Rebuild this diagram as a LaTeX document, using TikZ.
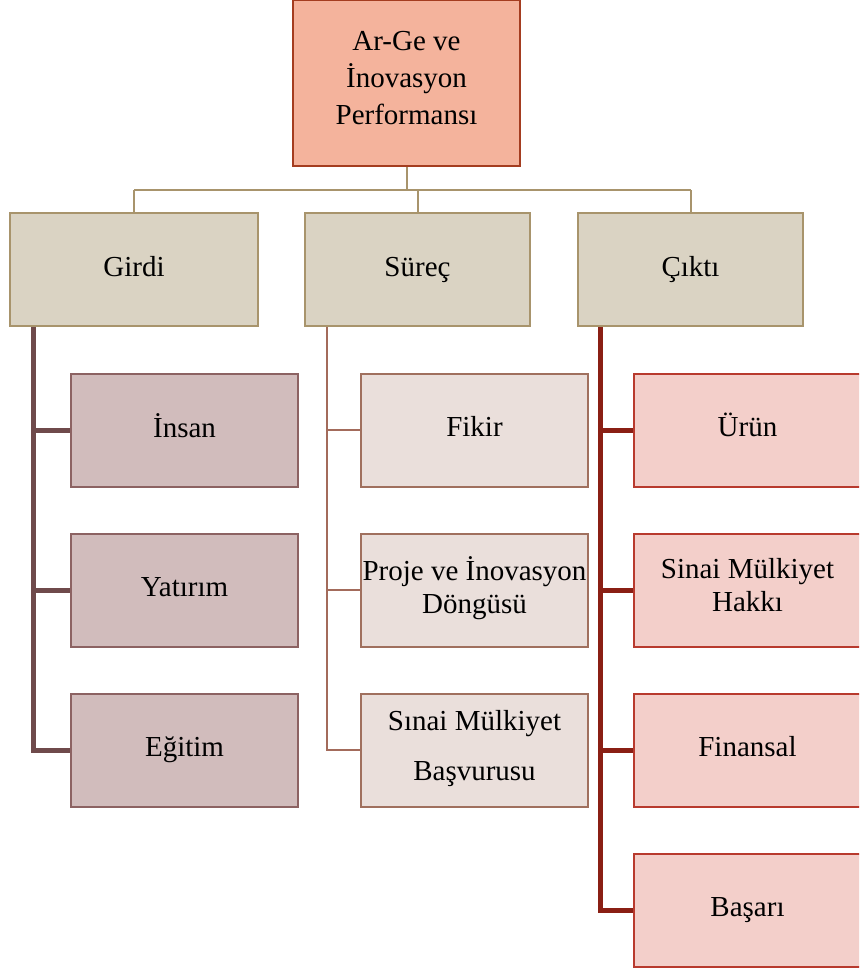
\documentclass[tikz,border=0pt]{standalone}
\usepackage{fontspec}
\setmainfont{Liberation Serif}
\definecolor{topfill}{HTML}{F4B39C}
\definecolor{topdraw}{HTML}{A43D20}
\definecolor{catfill}{HTML}{DAD3C3}
\definecolor{catdraw}{HTML}{A8946C}
\definecolor{inline}{HTML}{6F4A4B}
\definecolor{infill}{HTML}{D1BCBC}
\definecolor{indraw}{HTML}{8C6262}
\definecolor{procline}{HTML}{A36B5B}
\definecolor{procfill}{HTML}{EADFDB}
\definecolor{procdraw}{HTML}{A0705E}
\definecolor{outline}{HTML}{8A1F14}
\definecolor{outfill}{HTML}{F3CFCA}
\definecolor{outdraw}{HTML}{B83A2E}
\begin{document}
\begin{tikzpicture}[x=1pt,y=-1pt,line join=miter]
\tikzset{box/.style={draw,line width=2pt,inner sep=0pt,align=center,minimum height=113pt,
		execute at begin node=\strut,font=\fontsize{29}{33}\selectfont},
	topbox/.style={box,fill=topfill,draw=topdraw,minimum width=227pt,minimum height=166pt,font=\fontsize{29}{37}\selectfont},
	catbox/.style={box,fill=catfill,draw=catdraw,minimum width=225pt},
	inbox/.style={box,fill=infill,draw=indraw,minimum width=227pt},
	procbox/.style={box,fill=procfill,draw=procdraw,minimum width=227pt},
	outbox/.style={box,fill=outfill,draw=outdraw,minimum width=227pt}}
\clip (0,0) rectangle (859,971);
% root
\node[topbox] (perf) at (406.5,83) {Ar-Ge ve\\İnovasyon\\Performansı};
% categories
\node[catbox,minimum width=248pt] (girdi) at (134,269.5) {Girdi};
\node[catbox] (surec) at (417.5,269.5) {Süreç};
\node[catbox] (cikti) at (690.5,269.5) {Çıktı};
% children
\node[inbox] (insan) at (184.5,430) {İnsan};
\node[inbox] (yatirim) at (184.5,590) {Yatırım};
\node[inbox] (egitim) at (184.5,750) {Eğitim};
\node[procbox] (fikir) at (474.5,430) {Fikir};
\node[procbox] (proje) at (474.5,590) {Proje ve İnovasyon\\Döngüsü};
\node[procbox] (basvuru) at (474.5,750) {Sınai Mülkiyet\\[17pt]Başvurusu};
\node[outbox] (urun) at (747.5,430) {Ürün};
\node[outbox] (hak) at (747.5,590) {Sinai Mülkiyet\\Hakkı};
\node[outbox] (finans) at (747.5,750) {Finansal};
\node[outbox] (basari) at (747.5,910) {Başarı};
% top connectors
\coordinate (bus) at (0,190);
\draw[catdraw,line width=2pt] (perf.south) -- (perf.south |- bus);
\draw[catdraw,line width=2pt] (girdi.north |- bus) -- (cikti.north |- bus);
\foreach \n in {girdi,surec,cikti}
	\draw[catdraw,line width=2pt] (\n.north |- bus) -- (\n.north);
% branches
\draw[inline,line width=5pt] (girdi.south west) ++(24,0) coordinate (gl) |- (egitim.west);
\foreach \n in {insan,yatirim}
	\draw[inline,line width=5pt] (gl |- \n.west) -- (\n.west);
\draw[procline,line width=2pt] (surec.south west) ++(23,0) coordinate (pl) |- (basvuru.west);
\foreach \n in {fikir,proje}
	\draw[procline,line width=2pt] (pl |- \n.west) -- (\n.west);
\draw[outline,line width=5pt] (cikti.south west) ++(23,0) coordinate (ol) |- (basari.west);
\foreach \n in {urun,hak,finans}
	\draw[outline,line width=5pt] (ol |- \n.west) -- (\n.west);
\end{tikzpicture}
\end{document}
